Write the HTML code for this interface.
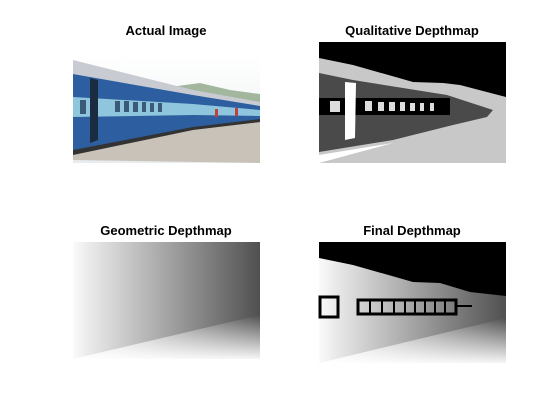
<!DOCTYPE html>
<html><head><meta charset="utf-8"><style>
body{margin:0;background:#fff;}
svg{display:block;font-family:"Liberation Sans",Arial,sans-serif;}
.t{font-size:13px;font-weight:bold;fill:#000;text-anchor:middle;}
</style></head><body>
<svg width="560" height="420">
<defs>
<linearGradient id="hg" x1="0" x2="1" y1="0" y2="0">
<stop offset="0" stop-color="#fafafa"/><stop offset="0.1" stop-color="#e8e8e8"/><stop offset="1" stop-color="#505050"/></linearGradient>
<linearGradient id="vg" x1="0" x2="0" y1="0" y2="1">
<stop offset="0" stop-color="#fff" stop-opacity="0"/><stop offset="1" stop-color="#fff" stop-opacity="0.95"/></linearGradient>
<linearGradient id="sky" x1="0" x2="0" y1="0" y2="1"><stop offset="0" stop-color="#fff"/><stop offset="1" stop-color="#e8ecef"/></linearGradient>
</defs>
<text class="t" x="166" y="35">Actual Image</text>
<text class="t" x="412" y="35">Qualitative Depthmap</text>
<text class="t" x="166" y="235">Geometric Depthmap</text>
<text class="t" x="412" y="235">Final Depthmap</text>

<g>
<rect x="73" y="57" width="187" height="106" fill="url(#sky)"/>
<polygon points="170,87 200,83 230,90 260,94 260,104 193,93" fill="#6a8a60" opacity="0.6"/>
<polygon points="73,160 73,150 193,128 260,118 260,163" fill="#c9c2b8"/>
<polygon points="73,60 193,90 260,102 260,106 193,95 73,74" fill="#c8ccd2"/>
<polygon points="73,74 193,95 260,106 260,122 193,128 73,152" fill="#2d5fa0"/>
<polygon points="73,97 193,104 260,110 260,116 193,115 73,117" fill="#8fc6de"/>
<polygon points="90,78 98,80 98,140 90,143" fill="#1c2c40"/>
<polygon points="73,150 193,127 260,119 260,122 193,130 73,155" fill="#333"/>
<g fill="#3a5a7a"><rect x="80" y="100" width="6" height="14"/><rect x="115" y="101" width="5" height="11"/><rect x="124" y="101" width="5" height="11"/><rect x="133" y="102" width="5" height="10"/><rect x="142" y="102" width="4" height="10"/><rect x="150" y="103" width="4" height="9"/><rect x="158" y="103" width="4" height="9"/></g>
<g fill="#c04040"><rect x="215" y="109" width="3" height="8"/><rect x="235" y="108" width="3" height="8"/></g>
</g>

<g>
<rect x="319" y="42" width="187" height="121" fill="#000"/>
<polygon points="319,58 353,65 413,82 443,83 460,85 506,97 506,163 319,163" fill="#c8c8c8"/>
<polygon points="319,73 353,80 447,95 493,110 487,117 453,125 393,140 319,152" fill="#4a4a4a"/>
<rect x="319" y="98" width="131" height="17" fill="#000"/>
<g fill="#ddd"><rect x="330" y="101" width="10" height="11"/><rect x="365" y="101" width="7" height="10"/><rect x="378" y="102" width="6" height="9"/><rect x="389" y="102" width="6" height="9"/><rect x="400" y="102" width="5" height="9"/><rect x="410" y="103" width="5" height="8"/><rect x="420" y="103" width="4" height="8"/><rect x="430" y="103" width="4" height="8"/></g>
<polygon points="345,82 356,83 355,138 345,140" fill="#fff"/>
<polygon points="319,163 319,155 393,143 319,163" fill="#fff"/>
</g>

<g>
<rect x="73" y="242" width="187" height="117" fill="url(#hg)"/>
<polygon points="73,359 260,315 260,359" fill="url(#vg)"/>
</g>

<g>
<rect x="319" y="242" width="187" height="121" fill="url(#hg)"/>
<polygon points="319,363 506,318 506,363" fill="url(#vg)"/>
<polygon points="319,242 506,242 506,296 470,292 440,283 413,282 353,265 319,258" fill="#000"/>
<rect x="320" y="297" width="18" height="20" fill="none" stroke="#000" stroke-width="3"/>
<rect x="358" y="300" width="98" height="14" fill="none" stroke="#000" stroke-width="3"/>
<g stroke="#000" stroke-width="2"><line x1="370" y1="300" x2="370" y2="314"/><line x1="382" y1="300" x2="382" y2="314"/><line x1="394" y1="300" x2="394" y2="314"/><line x1="405" y1="300" x2="405" y2="314"/><line x1="415" y1="300" x2="415" y2="314"/><line x1="425" y1="300" x2="425" y2="314"/><line x1="435" y1="300" x2="435" y2="314"/><line x1="445" y1="300" x2="445" y2="314"/><line x1="456" y1="306" x2="472" y2="306"/></g>
</g>
</svg>
</body></html>
